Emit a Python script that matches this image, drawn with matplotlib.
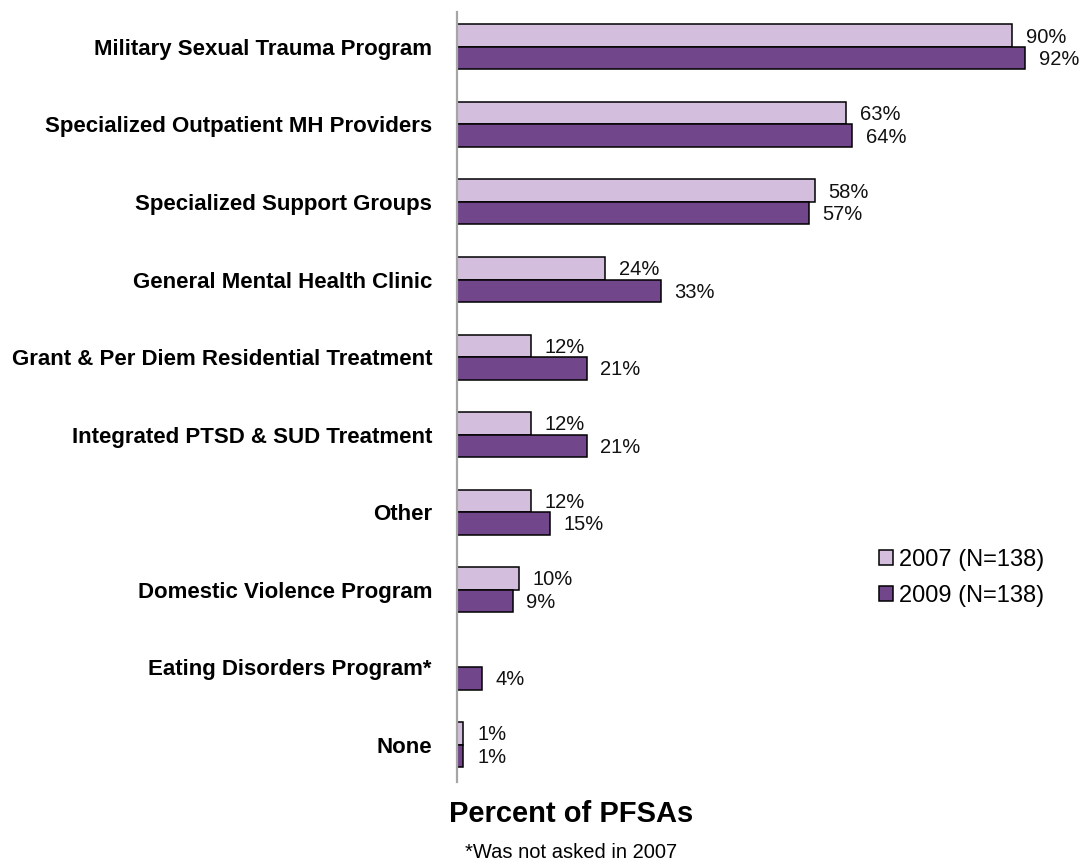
import matplotlib.pyplot as plt
import numpy as np

plt.rcParams['font.family'] = ['Liberation Sans', 'DejaVu Sans']

categories = ["Military Sexual Trauma Program",
              "Specialized Outpatient MH Providers",
              "Specialized Support Groups",
              "General Mental Health Clinic",
              "Grant & Per Diem Residential Treatment",
              "Integrated PTSD & SUD Treatment",
              "Other",
              "Domestic Violence Program",
              "Eating Disorders Program*",
              "None"]
# 2007 did not ask about eating disorders -> None
pct_2007 = [90, 63, 58, 24, 12, 12, 12, 10, None, 1]
pct_2009 = [92, 64, 57, 33, 21, 21, 15, 9, 4, 1]
series_labels = ["2007 (N=138)", "2009 (N=138)"]

light = '#D3BFDD'
dark = '#72468A'

fig = plt.figure(figsize=(10.8, 8.65), dpi=100)
ax = fig.add_axes([457 / 1080, 1 - 782 / 865, 617 / 1080, 770 / 865])

y = np.arange(len(categories))
h = 0.29

def draw_series(vals, offset, color, label):
    ys, xs = [], []
    for yi, v in zip(y, vals):
        if v is None:
            continue
        ys.append(yi + offset)
        xs.append(v)
    bars = ax.barh(ys, xs, height=h, color=color, edgecolor='black',
                   linewidth=1.1, label=label)
    for rect, v in zip(bars, xs):
        ax.annotate('{}%'.format(v),
                    xy=(rect.get_width(), rect.get_y() + rect.get_height() / 2),
                    xytext=(10, -1), textcoords='offset points',
                    ha='left', va='center', fontsize=14.5, color='#111111')
    return bars

draw_series(pct_2007, -h / 2, light, series_labels[0])
draw_series(pct_2009, h / 2, dark, series_labels[1])

ax.set_xlim(0, 100)
ax.set_ylim(9.48, -0.45)
ax.set_yticks(y)
ax.set_yticklabels(categories, fontsize=16, fontweight='bold')
ax.tick_params(axis='y', length=0, pad=18)
ax.set_xticks([])
for s in ['top', 'right', 'bottom']:
    ax.spines[s].set_visible(False)
ax.spines['left'].set_color('#A6A6A6')
ax.spines['left'].set_linewidth(1.6)

ax.legend(loc='upper left', bbox_to_anchor=(879 / 1080, 1 - 549 / 865),
          bbox_transform=fig.transFigure, frameon=False, fontsize=17,
          handlelength=0.6, handleheight=0.6, handletextpad=0.25,
          labelspacing=0.6, borderpad=0, borderaxespad=0)

fig.text(571 / 1080, 1 - 814 / 865, "Percent of PFSAs", ha='center', va='center',
         fontsize=21, fontweight='bold')
fig.text(571 / 1080, 1 - 853 / 865, "*Was not asked in 2007", ha='center', va='center',
         fontsize=14.5)

plt.savefig("out.png", dpi=100)
